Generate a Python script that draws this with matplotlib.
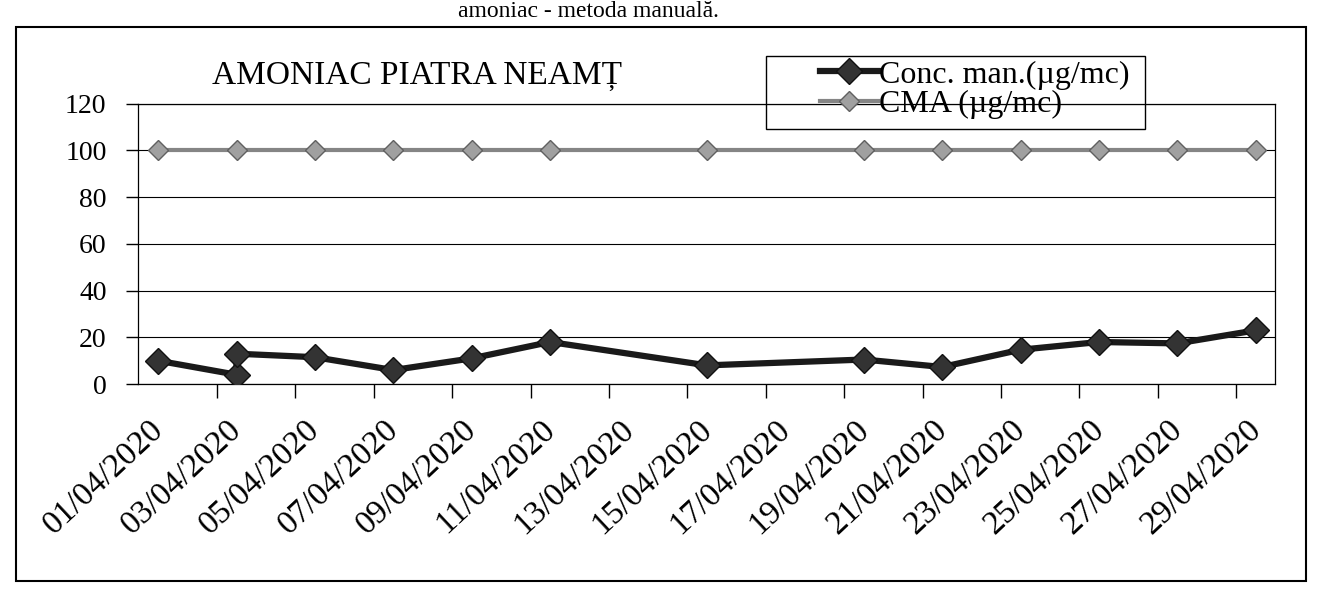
import matplotlib.pyplot as plt
from matplotlib.patches import Rectangle

# date (ziua din luna aprilie 2020)
zi_man = [1, 3, 3, 5, 7, 9, 11, 15, 19, 21, 23, 25, 27, 29]
conc_man = [10, 4, 13, 11.5, 6, 11, 18, 8, 10.5, 7.3, 14.7, 18, 17.4, 23]

zi_cma = [1, 3, 5, 7, 9, 11, 15, 19, 21, 23, 25, 27, 29]
cma = [100, 100, 100, 100, 100, 100, 100, 100, 100, 100, 100, 100, 100]

zi_etichete = [1, 3, 5, 7, 9, 11, 13, 15, 17, 19, 21, 23, 25, 27, 29]
etichete = ['01/04/2020', '03/04/2020', '05/04/2020', '07/04/2020', '09/04/2020',
            '11/04/2020', '13/04/2020', '15/04/2020', '17/04/2020', '19/04/2020',
            '21/04/2020', '23/04/2020', '25/04/2020', '27/04/2020', '29/04/2020']

plt.rcParams['font.family'] = ['Liberation Serif', 'DejaVu Serif']

fig = plt.figure(figsize=(13.19, 6.02), dpi=100)
ax = fig.add_axes([0.105, 0.362, 0.862, 0.466])

ax.plot(zi_man, conc_man, color='#1a1a1a', lw=4.5, marker='D', ms=13,
        mfc='#333333', mec='#111111', label='Conc. man.(µg/mc)', zorder=3)
ax.plot(zi_cma, cma, color='#858585', lw=3, marker='D', ms=10,
        mfc='#a0a0a0', mec='#606060', label='CMA (µg/mc)', zorder=3)

ax.set_ylim(0, 120)
ax.set_yticks(range(0, 121, 20))
ax.set_xlim(0.5, 29.5)
# etichetele sunt usor decalate spre stanga fata de punct, ca in original
ax.set_xticks([d - 0.25 for d in zi_etichete])
ax.set_xticklabels(etichete, rotation=43, ha='right', rotation_mode='anchor', fontsize=24)
ax.tick_params(axis='x', which='major', length=0, pad=22)
ax.set_xticks([d + 0.5 for d in range(2, 29, 2)], minor=True)
ax.tick_params(axis='x', which='minor', length=10, width=1, direction='out')
ax.tick_params(axis='y', labelsize=20, length=9, width=1, pad=14)
ax.grid(axis='y', color='black', lw=0.8)
for s in ax.spines.values():
    s.set_linewidth(0.9)

ax.set_title('AMONIAC PIATRA NEAMȚ', fontsize=24, x=0.245, y=1.04, loc='center')

# legenda cu chenar propriu (mai lat decat textul)
fig.patches.append(Rectangle((0.581, 0.785), 0.287, 0.122, transform=fig.transFigure,
                             fill=False, edgecolor='black', lw=1))
fig.legend(loc='upper left', bbox_to_anchor=(0.605, 0.937), fontsize=23,
           frameon=False, handlelength=1.8, handletextpad=0.05,
           borderpad=0.2, labelspacing=0.0)

# chenarul graficului si textul de sus
fig.patches.append(Rectangle((0.012, 0.035), 0.978, 0.92, transform=fig.transFigure,
                             fill=False, edgecolor='black', lw=1.5))
fig.text(0.545, 0.998, 'amoniac - metoda manuală.', fontsize=17, ha='right', va='top')

fig.savefig('out.png', dpi=100)
